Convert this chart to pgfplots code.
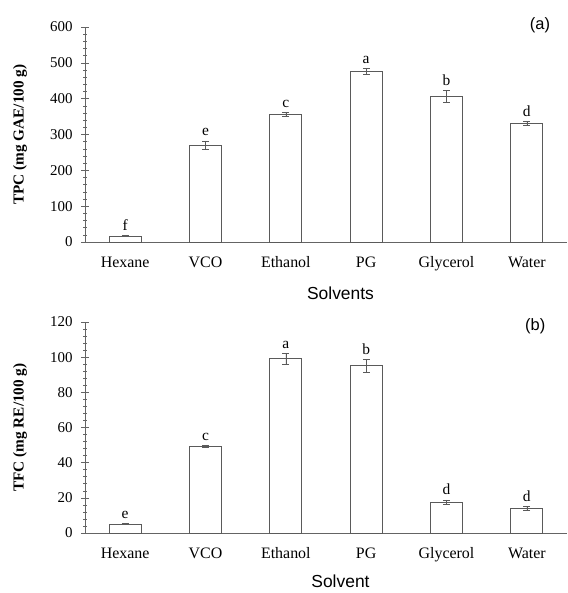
\documentclass[border=0pt]{standalone}
\usepackage{fontspec}
\setmainfont{Liberation Serif}
\setsansfont{Liberation Sans}
\usepackage{pgfplots}
\usepackage{pgfplotstable}
\pgfplotsset{compat=1.18}
\definecolor{axgray}{RGB}{100,100,100}
\definecolor{bargray}{RGB}{90,90,90}

\pgfplotstableread{
x y err lab
0 17 0.5 f
1 271 11 e
2 356 5 c
3 476 9 a
4 406 17 b
5 331 6 d
}\dataA
\pgfplotstableread{
x y err lab
0 5.1 0.3 e
1 49.4 0.5 c
2 99.2 3.1 a
3 95.1 3.6 b
4 17.6 1.2 d
5 14.1 1.1 d
}\dataB

\pgfplotsset{
  mystyle/.style={
    scale only axis,
    width=482bp,
    xmin=-0.5, xmax=5.5,
    ymin=0,
    axis x line*=bottom,
    axis y line*=left,
    axis line style={axgray, line width=0.8pt, -},
    xtick={0,1,2,3,4,5},
    xticklabels={Hexane,VCO,Ethanol,PG,Glycerol,Water},
    major x tick style={draw=none},
    minor y tick num=4,
    major tick length=8bp,
    minor tick length=4bp,
    major y tick style={axgray, line width=0.6pt},
    minor y tick style={axgray, line width=0.6pt},
    ytick align=center,
    minor tick style={/pgfplots/tick align=inside},
    yticklabel style={font=\fontsize{15}{16}\selectfont, xshift=-5bp},
    xticklabel style={font=\fontsize{16}{17}\selectfont, anchor=base, yshift=-25.6bp},
    /pgf/number format/assume math mode=true,
    ylabel style={font=\bfseries\fontsize{15.3}{16}\selectfont,
      at={(axis description cs:-0.135,0.5)}, anchor=center},
    xlabel style={font=\sffamily\fontsize{17.5}{18}\selectfont,
      at={(axis description cs:0.5,0)}, anchor=base, xshift=14.5bp, yshift=-58bp},
    clip=false,
  },
  mybar/.style={
    ybar, bar width=32bp, fill=white, draw=bargray, line width=0.7pt,
    error bars/.cd, y dir=both, y explicit,
    error bar style={bargray, line width=0.6pt},
    error mark options={rotate=90, mark size=3.4bp, bargray, line width=0.6pt},
  },
  mylab/.style={
    draw=none, mark=none, forget plot,
    nodes near coords, point meta=explicit symbolic,
    nodes near coords style={anchor=base, yshift=5bp, inner sep=0pt,
      font=\fontsize{15.5}{16}\selectfont, text=black},
  },
}

\begin{document}
\begin{tikzpicture}
\useasboundingbox (0,0) rectangle (568bp,593bp);
\begin{axis}[mystyle,
  at={(85bp,351bp)}, anchor=south west,
  height=215bp, ymax=600,
  ytick={0,100,200,300,400,500,600},
  ylabel={TPC (mg GAE/100 g)},
  xlabel={Solvents},
]
\addplot[mybar] table[x=x, y=y, y error=err] {\dataA};
\addplot[mylab] table[x=x, y expr=\thisrow{y}+\thisrow{err}, meta=lab] {\dataA};
\node[font=\sffamily\fontsize{16.5}{17}\selectfont, anchor=center] at (rel axis cs:0.944,1.01) {(a)};
\end{axis}
\begin{axis}[mystyle,
  at={(85bp,60bp)}, anchor=south west,
  height=211bp, ymax=120,
  ytick={0,20,40,60,80,100,120},
  ylabel={TFC (mg RE/100 g)},
  xlabel={Solvent},
  xlabel style={yshift=4bp},
]
\addplot[mybar] table[x=x, y=y, y error=err] {\dataB};
\addplot[mylab] table[x=x, y expr=\thisrow{y}+\thisrow{err}, meta=lab] {\dataB};
\node[font=\sffamily\fontsize{16.5}{17}\selectfont, anchor=center] at (rel axis cs:0.934,0.981) {(b)};
\end{axis}
\end{tikzpicture}
\end{document}
